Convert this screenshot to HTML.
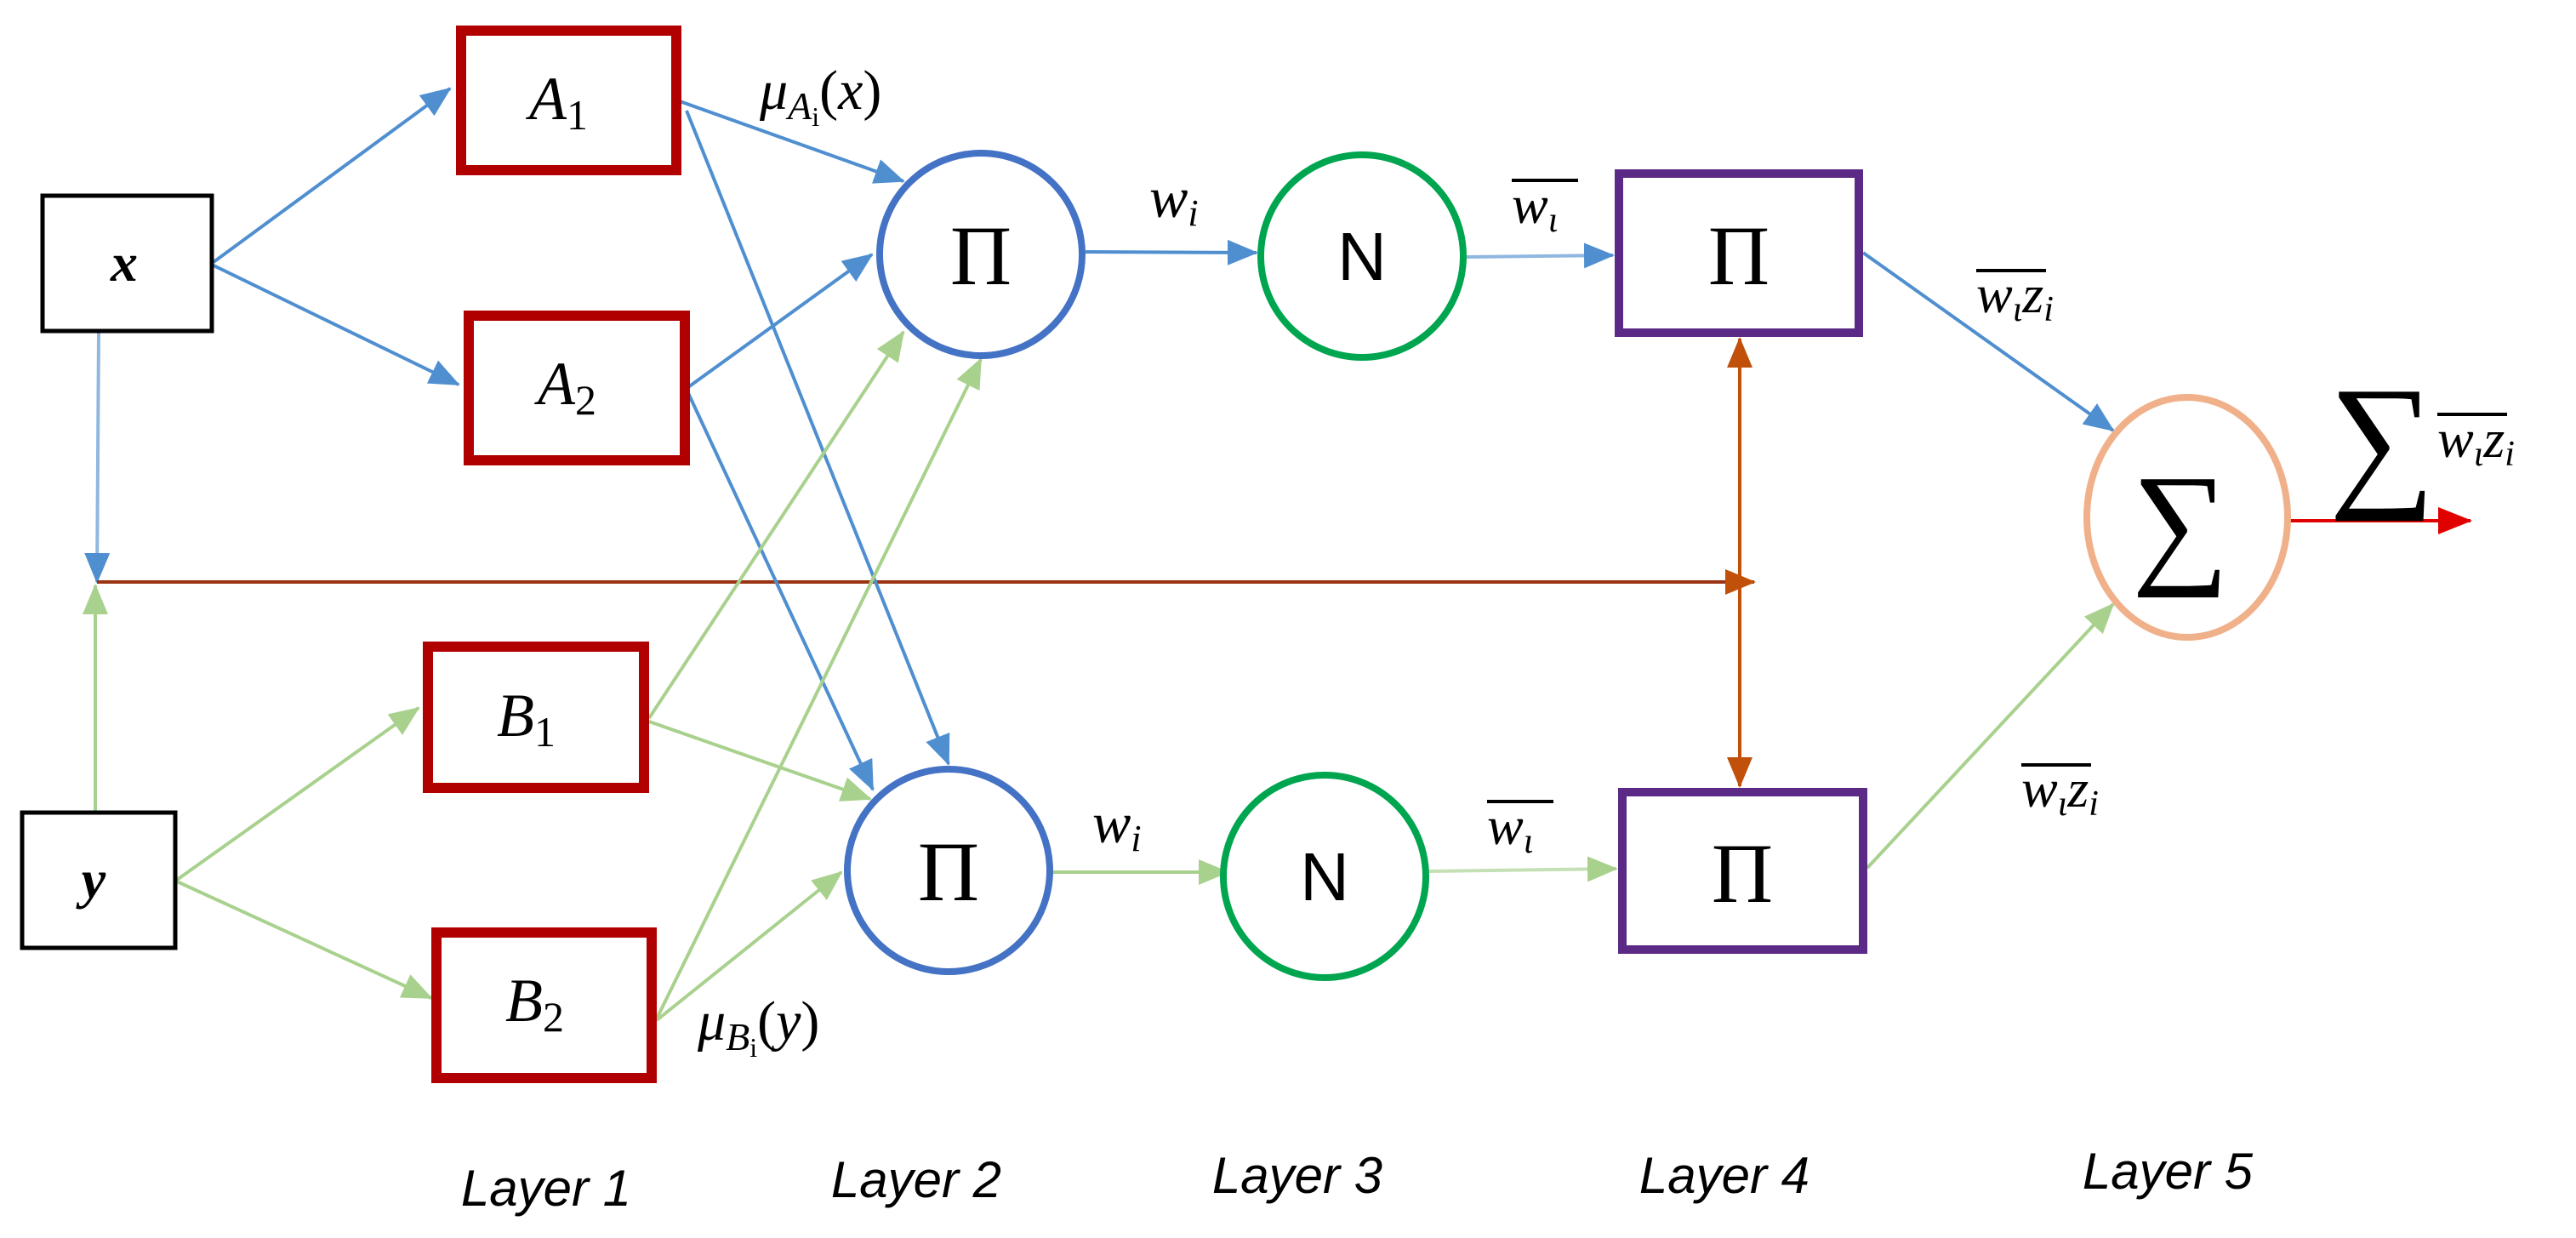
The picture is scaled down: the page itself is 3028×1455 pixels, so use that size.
<!DOCTYPE html>
<html><head><meta charset="utf-8"><style>
html,body{margin:0;padding:0;background:#fff}
svg{display:block}
.s{font-family:"Liberation Serif","DejaVu Serif",serif}
.l{font-family:"Liberation Sans","DejaVu Sans",sans-serif;font-style:italic}
</style></head><body>
<svg width="3028" height="1455" viewBox="0 0 3028 1455" xmlns="http://www.w3.org/2000/svg">
<defs>
<marker id="mb" markerUnits="userSpaceOnUse" markerWidth="36" markerHeight="30" refX="34" refY="15" orient="auto"><path d="M0,0 L36,15 L0,30 z" fill="#4f8fd0"/></marker>
<marker id="mg" markerUnits="userSpaceOnUse" markerWidth="36" markerHeight="30" refX="34" refY="15" orient="auto"><path d="M0,0 L36,15 L0,30 z" fill="#a9d18e"/></marker>
<marker id="mbr" markerUnits="userSpaceOnUse" markerWidth="36" markerHeight="30" refX="34" refY="15" orient="auto"><path d="M0,0 L36,15 L0,30 z" fill="#c0500a"/></marker>
<marker id="mr" markerUnits="userSpaceOnUse" markerWidth="40" markerHeight="32" refX="38" refY="16" orient="auto"><path d="M0,0 L40,16 L0,32 z" fill="#e00000"/></marker>
</defs>
<g fill="none" stroke-width="4">
<line x1="251" y1="308" x2="529" y2="104" stroke="#4f8fd0" marker-end="url(#mb)"/>
<line x1="251" y1="312" x2="539" y2="452" stroke="#4f8fd0" marker-end="url(#mb)"/>
<line x1="116" y1="391" x2="114" y2="684" stroke="#8fb7e0" marker-end="url(#mb)"/>
<line x1="208" y1="1034" x2="492" y2="832" stroke="#a9d18e" marker-end="url(#mg)"/>
<line x1="208" y1="1036" x2="507" y2="1173" stroke="#a9d18e" marker-end="url(#mg)"/>
<line x1="112" y1="953" x2="112" y2="688" stroke="#a9d18e" marker-end="url(#mg)"/>
<line x1="114" y1="684" x2="2062" y2="684" stroke="#9a3412" marker-end="url(#mbr)"/>
<line x1="2045" y1="620" x2="2045" y2="398" stroke="#c0500a" marker-end="url(#mbr)"/>
<line x1="2045" y1="620" x2="2045" y2="924" stroke="#c0500a" marker-end="url(#mbr)"/>
<line x1="799" y1="119" x2="1062" y2="213" stroke="#4f8fd0" marker-end="url(#mb)"/>
<line x1="807" y1="130" x2="1115" y2="898" stroke="#4f8fd0" marker-end="url(#mb)"/>
<line x1="809" y1="455" x2="1025" y2="299" stroke="#4f8fd0" marker-end="url(#mb)"/>
<line x1="809" y1="462" x2="1026" y2="928" stroke="#4f8fd0" marker-end="url(#mb)"/>
<line x1="763" y1="844" x2="1062" y2="390" stroke="#a9d18e" marker-end="url(#mg)"/>
<line x1="763" y1="848" x2="1023" y2="939" stroke="#a9d18e" marker-end="url(#mg)"/>
<line x1="772" y1="1197" x2="1153" y2="422" stroke="#a9d18e" marker-end="url(#mg)"/>
<line x1="772" y1="1199" x2="989" y2="1025" stroke="#a9d18e" marker-end="url(#mg)"/>
<line x1="1276" y1="296" x2="1477" y2="297" stroke="#4f8fd0" marker-end="url(#mb)"/>
<line x1="1237" y1="1025" x2="1443" y2="1025" stroke="#a9d18e" marker-end="url(#mg)"/>
<line x1="1724" y1="302" x2="1896" y2="300" stroke="#8fb7e0" marker-end="url(#mb)"/>
<line x1="1680" y1="1024" x2="1900" y2="1021" stroke="#c5e0b4" marker-end="url(#mg)"/>
<line x1="2190" y1="297" x2="2484" y2="506" stroke="#4f8fd0" marker-end="url(#mb)"/>
<line x1="2195" y1="1020" x2="2484" y2="710" stroke="#a9d18e" marker-end="url(#mg)"/>
<line x1="2692" y1="612" x2="2904" y2="612" stroke="#e00000" marker-end="url(#mr)"/>
</g>
<rect x="50" y="230" width="199" height="159" fill="#fff" stroke="#000" stroke-width="5"/>
<rect x="26" y="955" width="180" height="159" fill="#fff" stroke="#000" stroke-width="5"/>
<g fill="#fff" stroke="#b00000" stroke-width="12">
<rect x="542" y="36" width="253" height="164"/>
<rect x="551" y="371" width="254" height="170"/>
<rect x="503" y="760" width="254" height="166"/>
<rect x="513" y="1096" width="253" height="171"/>
</g>
<circle cx="1153" cy="299" r="119" fill="#fff" stroke="#4472c4" stroke-width="8"/>
<circle cx="1115" cy="1023" r="119" fill="#fff" stroke="#4472c4" stroke-width="8"/>
<circle cx="1601" cy="301" r="119" fill="#fff" stroke="#00a550" stroke-width="8"/>
<circle cx="1557" cy="1030" r="119" fill="#fff" stroke="#00a550" stroke-width="8"/>
<rect x="1903" y="204" width="282" height="187" fill="#fff" stroke="#5b2a86" stroke-width="10"/>
<rect x="1907" y="931" width="283" height="185" fill="#fff" stroke="#5b2a86" stroke-width="10"/>
<ellipse cx="2571" cy="608" rx="118" ry="141" fill="#fff" stroke="#f0b08a" stroke-width="8"/>
<g class="s" font-style="italic" fill="#000">
<text x="146" y="330" font-size="64" font-weight="bold" text-anchor="middle">x</text>
<text x="110" y="1055" font-size="64" font-weight="bold" text-anchor="middle">y</text>
<text x="622" y="140" font-size="72">A<tspan font-size="50" font-style="normal" dy="12">1</tspan></text>
<text x="632" y="475" font-size="72">A<tspan font-size="50" font-style="normal" dy="12">2</tspan></text>
<text x="584" y="865" font-size="72">B<tspan font-size="50" font-style="normal" dy="12">1</tspan></text>
<text x="594" y="1200" font-size="72">B<tspan font-size="50" font-style="normal" dy="12">2</tspan></text>
<text x="893" y="128" font-size="66">μ<tspan font-size="46" dy="12">A</tspan><tspan font-size="32" font-style="normal" dy="8">i</tspan><tspan font-size="66" dy="-20" font-style="normal">(</tspan>x<tspan font-style="normal">)</tspan></text>
<text x="820" y="1222" font-size="66">μ<tspan font-size="46" dy="12">B</tspan><tspan font-size="32" font-style="normal" dy="8">i</tspan><tspan font-size="66" dy="-20" font-style="normal">(</tspan>y<tspan font-style="normal">)</tspan></text>
<text x="1351" y="255" font-size="68">w<tspan font-size="44" dy="10">i</tspan></text>
<text x="1284" y="990" font-size="68">w<tspan font-size="44" dy="10">i</tspan></text>
<text x="1777" y="262" font-size="64">w<tspan font-size="42" dy="10">ι</tspan></text>
<text x="1748" y="992" font-size="64">w<tspan font-size="42" dy="10">ι</tspan></text>
<text x="2323" y="367" font-size="64">w<tspan font-size="42" dy="10">ι</tspan><tspan dy="-10">z</tspan><tspan font-size="42" dy="10">i</tspan></text>
<text x="2376" y="948" font-size="64">w<tspan font-size="42" dy="10">ι</tspan><tspan dy="-10">z</tspan><tspan font-size="42" dy="10">i</tspan></text>
<text x="2865" y="537" font-size="64">w<tspan font-size="42" dy="10">ι</tspan><tspan dy="-10">z</tspan><tspan font-size="42" dy="10">i</tspan></text>
</g>
<g stroke="#000" stroke-width="4">
<line x1="1777" y1="212" x2="1855" y2="212"/>
<line x1="1748" y1="942" x2="1826" y2="942"/>
<line x1="2323" y1="318" x2="2405" y2="318"/>
<line x1="2376" y1="899" x2="2458" y2="899"/>
<line x1="2865" y1="487" x2="2947" y2="487"/>
</g>
<g class="s" fill="#000" text-anchor="middle">
<text x="1153" y="334" font-size="100">Π</text>
<text x="1115" y="1058" font-size="100">Π</text>
<text x="2044" y="334" font-size="100">Π</text>
<text x="2048" y="1060" font-size="100">Π</text>
<text x="2563" y="668" font-size="160">∑</text>
<text x="2800" y="575" font-size="175">∑</text>
</g>
<g font-family="Liberation Sans,DejaVu Sans,sans-serif" font-size="80" text-anchor="middle" fill="#000">
<text x="1601" y="329">N</text>
<text x="1557" y="1058">N</text>
</g>
<g class="l" font-size="60" fill="#000" text-anchor="middle">
<text x="642" y="1417">Layer 1</text>
<text x="1077" y="1407">Layer 2</text>
<text x="1525" y="1402">Layer 3</text>
<text x="2027" y="1402">Layer 4</text>
<text x="2548" y="1397">Layer 5</text>
</g>
</svg>
</body></html>
